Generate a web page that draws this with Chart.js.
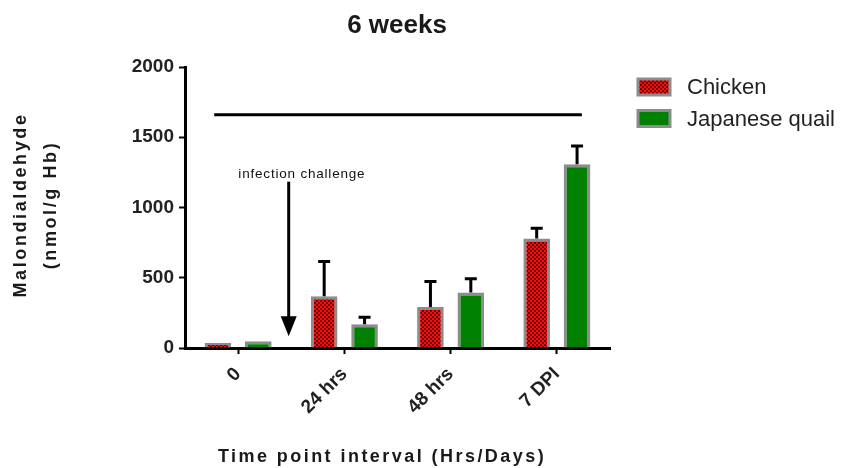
<!DOCTYPE html>
<html><head><meta charset="utf-8">
<script src="https://cdn.jsdelivr.net/npm/chart.js@4"></script>
<style>html,body{margin:0;padding:0;background:#fff;}#wrap{width:842px;height:468px;position:relative;}</style>
</head><body><div id="wrap"><canvas id="c" width="842" height="468"></canvas></div>
<script>
// ---- data ----
const chartTitle = '6 weeks';
const categories = ['0', '24 hrs', '48 hrs', '7 DPI'];
const seriesNames = ['Chicken', 'Japanese quail'];
const chickenValues = [38, 369, 292, 780];
const chickenErrors = [0, 247, 181, 73];
const quailValues = [48, 169, 395, 1308];
const quailErrors = [0, 50, 97, 129];
const yTicks = [0, 500, 1000, 1500, 2000];
const yTitleLines = ['Malondialdehyde', '(nmol/g Hb)'];
const xTitle = 'Time point interval (Hrs/Days)';
const annotationText = 'infection challenge';
// annotation positions in data units (category index, value)
const sigLineValue = 1660;
const sigLineFrom = -0.225;
const sigLineTo = 3.235;
const arrowCat = 0.476;
const arrowFromValue = 1184;
const arrowToValue = 83;
const annotationCat = 0.6;
const annotationValue = 1210;

// ---- styles ----
function makePattern() {
  const c = document.createElement('canvas'); c.width = 4; c.height = 4;
  const g = c.getContext('2d');
  g.fillStyle = '#ff0a0a'; g.fillRect(0, 0, 4, 4);
  g.fillStyle = '#700000'; g.fillRect(0, 0, 2, 2); g.fillRect(2, 2, 2, 2);
  return g.createPattern(c, 'repeat');
}
const redPattern = makePattern();
const green = '#008000';
const borderGray = '#8c8c8c';
const errors = [chickenErrors, quailErrors];

function catPixel(xs, idx) {
  const p0 = xs.getPixelForValue(0), p1 = xs.getPixelForValue(1);
  return p0 + idx * (p1 - p0);
}

const decor = {
  id: 'decor',
  afterDatasetsDraw(chart) {
    const ctx = chart.ctx, ys = chart.scales.y;
    ctx.save();
    ctx.strokeStyle = '#000';
    ctx.lineWidth = 3;
    chart.data.datasets.forEach((ds, i) => {
      const meta = chart.getDatasetMeta(i);
      meta.data.forEach((el, j) => {
        const e = errors[i][j];
        if (!e) return;
        const top = ys.getPixelForValue(ds.data[j] + e);
        ctx.beginPath();
        ctx.moveTo(el.x, el.y);
        ctx.lineTo(el.x, top);
        ctx.moveTo(el.x - 6, top);
        ctx.lineTo(el.x + 6, top);
        ctx.stroke();
      });
    });
    ctx.restore();
  },
  afterDraw(chart) {
    const ctx = chart.ctx, xs = chart.scales.x, ys = chart.scales.y;
    ctx.save();
    // significance line
    ctx.strokeStyle = '#000'; ctx.lineWidth = 3;
    const ly = ys.getPixelForValue(sigLineValue);
    ctx.beginPath();
    ctx.moveTo(catPixel(xs, sigLineFrom), ly);
    ctx.lineTo(catPixel(xs, sigLineTo), ly);
    ctx.stroke();
    // arrow
    const ax = catPixel(xs, arrowCat);
    const ay0 = ys.getPixelForValue(arrowFromValue);
    const ay1 = ys.getPixelForValue(arrowToValue);
    ctx.beginPath();
    ctx.moveTo(ax, ay0); ctx.lineTo(ax, ay1 - 18); ctx.stroke();
    ctx.fillStyle = '#000';
    ctx.beginPath();
    ctx.moveTo(ax - 8, ay1 - 20); ctx.lineTo(ax + 8, ay1 - 20); ctx.lineTo(ax, ay1); ctx.closePath(); ctx.fill();
    // annotation text
    ctx.font = '13.5px "Liberation Sans", Arial, sans-serif';
    ctx.letterSpacing = '0.8px';
    ctx.textAlign = 'center'; ctx.textBaseline = 'alphabetic';
    ctx.fillStyle = '#111';
    ctx.fillText(annotationText, catPixel(xs, annotationCat), ys.getPixelForValue(annotationValue));
    // title
    ctx.letterSpacing = '0px';
    ctx.font = 'bold 26px "Liberation Sans", Arial, sans-serif';
    ctx.fillStyle = '#1a1a1a';
    ctx.fillText(chartTitle, 397, 33);
    // x title
    ctx.font = 'bold 18px "Liberation Sans", Arial, sans-serif';
    ctx.letterSpacing = '2.45px';
    ctx.fillText(xTitle, 382, 462);
    // y title
    ctx.save();
    ctx.translate(0, 205);
    ctx.rotate(-Math.PI / 2);
    ctx.letterSpacing = '2.6px';
    ctx.textBaseline = 'middle';
    ctx.fillText(yTitleLines[0], 0, 21);
    ctx.fillText(yTitleLines[1], 0, 51);
    ctx.restore();
    // legend
    ctx.letterSpacing = '0px';
    const fills = [redPattern, green];
    const legY = [87, 118.5];
    ctx.font = '22px "Liberation Sans", Arial, sans-serif';
    ctx.textAlign = 'left'; ctx.textBaseline = 'middle';
    seriesNames.forEach((n, i) => {
      ctx.fillStyle = fills[i];
      ctx.fillRect(638, legY[i] - 8, 32, 16);
      ctx.strokeStyle = borderGray; ctx.lineWidth = 3;
      ctx.strokeRect(638, legY[i] - 8, 32, 16);
      ctx.fillStyle = '#222';
      ctx.fillText(n, 687, legY[i] + 1);
    });
    ctx.restore();
  }
};

const tickFont = {family: '"Liberation Sans", Arial, sans-serif', size: 19, weight: 'bold'};

new Chart(document.getElementById('c'), {
  type: 'bar',
  data: {
    labels: categories,
    datasets: [
      {label: seriesNames[0], data: chickenValues, backgroundColor: redPattern, borderColor: borderGray, borderWidth: 3},
      {label: seriesNames[1], data: quailValues, backgroundColor: green, borderColor: borderGray, borderWidth: 3}
    ]
  },
  options: {
    responsive: false, animation: false, devicePixelRatio: 1,
    layout: {padding: {top: 67, right: 232, bottom: 0, left: 0}},
    datasets: {bar: {categoryPercentage: 0.76, barPercentage: 0.66, borderSkipped: 'start'}},
    plugins: {legend: {display: false}, title: {display: false}, tooltip: {enabled: false}},
    scales: {
      x: {
        offset: true,
        grid: {display: true, drawOnChartArea: false, offset: false, tickLength: 6, tickWidth: 2, tickColor: '#000'},
        border: {display: true, color: '#000', width: 3},
        ticks: {font: tickFont, color: '#222', minRotation: 45, maxRotation: 45, padding: 9, autoSkip: false},
        afterFit: s => { s.height = 120; }
      },
      y: {
        min: 0, max: 2000,
        afterBuildTicks: s => { s.ticks = yTicks.map(v => ({value: v})); },
        ticks: {font: tickFont, color: '#222', padding: 5, callback: v => String(v)},
        grid: {display: true, drawOnChartArea: false, tickLength: 6, tickWidth: 2, tickColor: '#000'},
        border: {display: true, color: '#000', width: 3},
        afterFit: s => { s.width = 185; }
      }
    }
  },
  plugins: [decor]
});
</script>
</body></html>
